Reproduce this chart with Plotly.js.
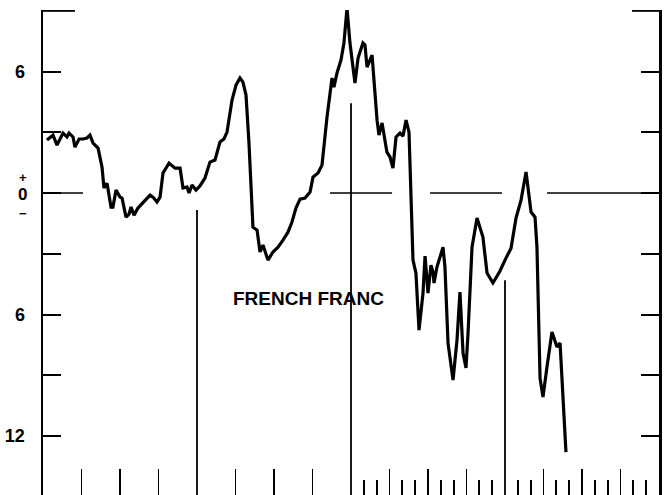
<!DOCTYPE html>
<html>
<head>
<meta charset="utf-8">
<script src="https://cdn.plot.ly/plotly-3.0.1.min.js"></script>
<style>html,body{margin:0;padding:0;background:#fff;}#chart{width:665px;height:495px;}</style>
</head>
<body>
<div id="chart"></div>
<script>
// months from start of the period (0..48)
var months = [0.31,0.78,1.09,1.56,1.87,2.03,2.34,2.49,2.81,3.12,
3.43,3.66,3.90,4.29,4.60,4.75,4.99,5.30,5.45,5.69,
6.00,6.16,6.47,6.70,6.86,7.09,7.40,7.79,8.34,8.57,
8.88,9.12,9.35,9.82,10.29,10.68,10.91,11.22,11.38,11.61,
11.92,12.23,12.62,13.01,13.40,13.79,14.10,14.34,14.73,15.04,
15.35,15.58,15.82,16.05,16.36,16.68,16.91,17.14,17.53,17.92,
18.31,18.70,19.09,19.40,19.71,20.03,20.42,20.81,21.04,21.43,
21.74,22.13,22.52,22.67,22.91,23.22,23.45,23.69,23.92,24.31,
24.55,24.93,25.09,25.25,25.64,26.03,26.18,26.42,26.80,27.04,
27.27,27.51,27.82,28.05,28.29,28.52,28.83,29.06,29.30,29.61,
29.77,30.00,30.23,30.39,30.47,30.70,31.17,31.32,31.56,31.95,
32.26,32.49,32.73,32.96,33.12,33.43,33.82,34.28,34.60,35.06,
35.61,36.00,36.47,36.86,37.25,37.64,38.03,38.34,38.49,38.73,
38.96,39.27,39.66,40.05,40.29,40.75];

// French franc deviation (percent)
var franc = [2.62,2.86,2.37,2.96,2.77,2.96,2.77,2.27,2.67,2.67,
2.72,2.86,2.47,2.22,1.28,0.25,0.49,-0.69,-0.69,0.15,
-0.20,-0.25,-1.19,-1.04,-0.69,-1.09,-0.74,-0.49,-0.10,-0.20,
-0.44,-0.20,0.99,1.48,1.23,1.23,0.25,0.30,0,0.40,
0.15,0.35,0.74,1.53,1.63,2.52,2.67,3.01,4.59,5.33,
5.68,5.48,4.84,2.47,-1.68,-1.83,-2.91,-2.57,-3.31,-2.91,
-2.67,-2.32,-1.93,-1.43,-0.74,-0.30,-0.25,0.05,0.79,0.99,
1.38,3.75,5.68,5.23,5.93,6.57,7.41,9.14,7.41,5.43,
6.67,7.41,7.31,6.22,6.81,3.60,2.86,3.46,2.02,1.78,
1.23,2.77,2.96,2.81,3.60,3.01,-3.31,-3.95,-6.77,-4.94,
-3.11,-4.94,-3.56,-3.90,-4.44,-3.65,-2.67,-3.65,-7.41,-9.23,
-7.26,-4.89,-7.90,-8.64,-6.91,-2.67,-1.23,-2.17,-3.95,-4.44,
-3.85,-3.31,-2.72,-1.23,-0.35,1.04,-0.94,-1.19,-2.67,-9.14,
-10.07,-8.59,-6.86,-7.60,-7.41,-12.79];

var yTickVals = [6,3,0,-3,-6,-9,-12];
var yTickText = ['6','','','','6','','12'];
var xMajorTicks = [3,6,9,15,18,21,27,30,33,39,42,45];
var xMinorTicks = [25,26,28,29,31,32,34,35,37,38,40,41,43,44,46,47];
var yearLines = [12,24,36];
var yearLineTops = [-0.84,4.44,-4.30];
var zeroSegments = [[0,3.12],[22.36,27.2],[30.16,35.77],[39.27,48]];
var seriesLabel = 'FRENCH FRANC';
var zeroLabel = '<b><span style="font-size:13px">+</span><br><span style="font-size:17px">0</span><br><span style="font-size:13px">\u2212</span></b>';

var yBottom = -14.91, yTop = 9.04;

var shapes = [];
yearLines.forEach(function(m,i){
  shapes.push({type:'line',xref:'x',yref:'y',x0:m,x1:m,y0:yearLineTops[i],y1:yBottom,line:{color:'#000',width:1.8}});
});
zeroSegments.forEach(function(s){
  shapes.push({type:'line',xref:'x',yref:'y',x0:s[0],x1:s[1],y0:0,y1:0,line:{color:'#000',width:1.6}});
});
// top caps
shapes.push({type:'line',xref:'x',yref:'y',x0:0,x1:2.49,y0:9,y1:9,line:{color:'#000',width:2}});
shapes.push({type:'line',xref:'x',yref:'y',x0:45.9,x1:48,y0:9,y1:9,line:{color:'#000',width:2}});

var font = 'Liberation Sans, Arial, sans-serif';

var trace = {
  x: months, y: franc, type:'scatter', mode:'lines',
  line:{color:'#000',width:3.2}, cliponaxis:false, hoverinfo:'skip'
};

var layout = {
  width:665, height:495, autosize:false,
  margin:{l:43,r:6,t:10,b:0,pad:0},
  paper_bgcolor:'#fff', plot_bgcolor:'#fff',
  showlegend:false,
  xaxis:{range:[0,48],showgrid:false,zeroline:false,showline:false,
    tickmode:'array',tickvals:xMajorTicks,ticks:'inside',ticklen:26,tickwidth:1.8,tickcolor:'#000',
    showticklabels:false,
    minor:{tickmode:'array',tickvals:xMinorTicks,ticks:'inside',ticklen:15,tickwidth:1.8,tickcolor:'#000',showgrid:false}},
  yaxis:{range:[yBottom,yTop],showgrid:false,zeroline:false,showline:true,linecolor:'#000',linewidth:2.5,
    mirror:'ticks',tickmode:'array',tickvals:yTickVals,ticktext:yTickText,ticks:'inside',ticklen:18,tickwidth:2,tickcolor:'#000',
    ticklabelstandoff:12,
    tickfont:{family:font,size:18,color:'#000',weight:'bold'}},
  shapes:shapes,
  annotations:[
    {xref:'x',yref:'y',x:20.65,y:-5.21,text:seriesLabel,showarrow:false,xanchor:'center',yanchor:'middle',
     font:{family:font,size:19,color:'#000',weight:'bold'}},
    {xref:'paper',yref:'y',x:-0.034,y:-0.10,text:zeroLabel,showarrow:false,xanchor:'center',yanchor:'middle',
     font:{family:font,size:14,color:'#000',weight:'bold'}}
  ]
};

Plotly.newPlot('chart',[trace],layout,{staticPlot:true,displayModeBar:false});
</script>
</body>
</html>
